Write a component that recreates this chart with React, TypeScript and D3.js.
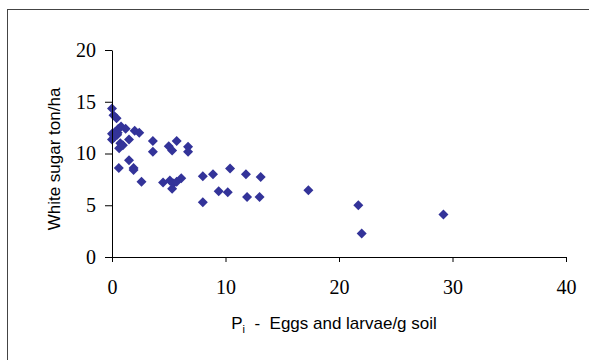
import React, { useRef, useEffect } from "react";
import { select, scaleLinear, axisBottom, axisLeft, symbol, symbolSquare } from "d3";

// eggs and larvae per g soil (Pi)
const eggs = [
    0, 0.13, 0.4, 0, 0, 0.3, 0.56, 0.8, 1.2, 0.46, 0.73, 0.63, 0.96, 1.5, 2.0, 2.4, 0.6, 1.5, 1.9, 1.9,
    2.6, 3.6, 3.6, 5.0, 5.3, 5.7, 6.7, 6.7, 4.5, 5.1, 5.4, 5.3, 5.7, 6.1, 8.0, 8.9, 8.0, 9.4, 10.2, 10.4,
    11.8, 13.1, 11.9, 13.0, 17.3, 21.7, 22.0, 29.2, 0.2, 0.5,
];
// white sugar ton/ha
const sugar = [
    14.35, 13.7, 13.4, 11.9, 11.35, 12.1, 12.4, 12.6, 12.4, 11.8, 11.0, 10.5, 10.8, 11.35, 12.2, 12.0, 8.6, 9.35, 8.6, 8.4,
    7.26, 11.2, 10.16, 10.7, 10.3, 11.2, 10.65, 10.16, 7.2, 7.4, 7.1, 6.6, 7.26, 7.6, 7.8, 8.0, 5.3, 6.35, 6.26, 8.55,
    8.0, 7.74, 5.8, 5.8, 6.45, 5.0, 2.26, 4.1, 11.6, 12.0,
];
const xTicks = [0, 10, 20, 30, 40];
const yTicks = [0, 5, 10, 15, 20];

export default function App() {
    const svgRef = useRef(null);

    useEffect(() => {
        const svg = select(svgRef.current);

        const xScale = scaleLinear().domain([0, 40]).range([112, 566]);
        const yScale = scaleLinear().domain([0, 20]).range([257, 50]);

        const xAxis = axisBottom(xScale).tickValues(xTicks).tickSize(5).tickSizeOuter(0).tickPadding(18);
        const yAxis = axisLeft(yScale).tickValues(yTicks).tickSize(7).tickSizeOuter(0).tickPadding(9);

        svg.select<SVGGElement>(".x-axis").attr("transform", "translate(0,257)").call(xAxis);
        svg.select<SVGGElement>(".y-axis").attr("transform", "translate(112,0)").call(yAxis);

        // d3 puts sans-serif 10px on the axis group, override it
        svg.selectAll(".x-axis, .y-axis")
            .attr("font-family", "Liberation Serif")
            .attr("font-size", 20);
        svg.selectAll(".x-axis text, .y-axis text").attr("fill", "#000");
        svg.selectAll(".x-axis line, .y-axis line, .x-axis path, .y-axis path").attr("stroke", "#000");

        const diamond = symbol().type(symbolSquare).size(50);

        svg.select(".points")
            .selectAll("path")
            .data(eggs.map((e, i) => [e, sugar[i]]))
            .join("path")
            .attr("d", diamond)
            .attr("transform", (d) => `translate(${xScale(d[0])},${yScale(d[1])}) rotate(45)`)
            .attr("fill", "#333399");
    }, []);

    return (
        <svg
            ref={svgRef}
            width={589}
            height={360}
            style={{ position: "absolute", left: 0, top: 0, background: "#fff" }}
        >
            <rect x={7.5} y={9.5} width={590} height={360} fill="none" stroke="#444" />
            <g className="points" />
            <g className="x-axis" />
            <g className="y-axis" />
            <text
                x={334}
                y={329}
                textAnchor="middle"
                fontFamily="Liberation Sans, Arial, sans-serif"
                fontSize={17}
                fill="#000"
                style={{ whiteSpace: "pre" }}
            >
                P<tspan fontSize={11} dy={4}>i</tspan>
                <tspan dy={-4}>{"  -  Eggs and larvae/g soil"}</tspan>
            </text>
            <text
                transform="translate(60,159) rotate(-90)"
                textAnchor="middle"
                fontFamily="Liberation Sans, Arial, sans-serif"
                fontSize={17}
                fill="#000"
            >
                White sugar ton/ha
            </text>
        </svg>
    );
}
